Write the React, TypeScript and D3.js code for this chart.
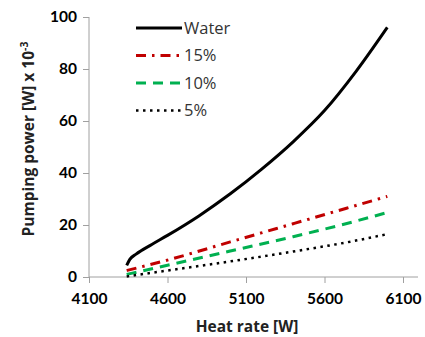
import * as d3 from "d3";
import { useEffect, useRef } from "react";

const heatWater = [4340, 4360, 4400, 4500, 4600, 4800, 5000, 5200, 5400, 5600, 5800, 6000];
const water = [4.5, 6.8, 8.8, 12.5, 16, 23.5, 32, 41.5, 52, 64, 79, 96];

const heatNano = [4340, 4600, 5000, 5400, 5800, 6000];
const nano15 = [2.5, 6.5, 13.5, 20.5, 27.5, 31];
const nano10 = [1, 4.5, 10, 15.5, 21.5, 24.8];
const nano5 = [0.2, 2.5, 6, 9.8, 14, 16.5];

const xTicks = [4100, 4600, 5100, 5600, 6100];
const yTicks = [0, 20, 40, 60, 80, 100];

const series = [
  { name: "Water", x: heatWater, y: water, color: "#000000", dash: "none", width: 3 },
  { name: "15%", x: heatNano, y: nano15, color: "#c00000", dash: "10,6,2.5,6", width: 3 },
  { name: "10%", x: heatNano, y: nano10, color: "#00b050", dash: "10,7", width: 3 },
  { name: "5%", x: heatNano, y: nano5, color: "#000000", dash: "2.5,4.5", width: 2.5 },
];

const App = () => {
  const ref = useRef<SVGSVGElement>(null);
  const width = 425,
    height = 337;

  useEffect(() => {
    const svg = d3.select(ref.current);
    svg.selectAll("*").remove();
    const font = "Lato, 'Open Sans', sans-serif";
    const titleFont = "'Open Sans', Lato, sans-serif";

    const x = d3.scaleLinear().domain([4100, 6100]).range([89, 403]);
    const y = d3.scaleLinear().domain([0, 100]).range([277, 17]);

    // y axis
    const yAxis = svg.append("g").attr("transform", "translate(89,0)").call(
      d3.axisLeft(y).tickValues(yTicks).tickSize(6).tickPadding(6)
    );
    yAxis.select(".domain").attr("stroke", "#a0a0a0").attr("d", `M0,${y(100)}V${y(0)}`);
    yAxis.selectAll(".tick line").attr("stroke", "#a0a0a0");
    yAxis
      .selectAll(".tick text")
      .attr("font-family", font)
      .attr("font-weight", "bold")
      .attr("font-size", 15.5)
      .attr("fill", "#000");

    // x axis
    const xAxis = svg.append("g").attr("transform", `translate(0,${y(0)})`).call(
      d3.axisBottom(x).tickValues(xTicks).tickFormat(d3.format("d")).tickSize(6).tickPadding(10)
    );
    xAxis.select(".domain").attr("stroke", "#a0a0a0").attr("d", `M${x(4100)},0H418`);
    xAxis.selectAll(".tick line").attr("stroke", "#a0a0a0");
    xAxis
      .selectAll(".tick text")
      .attr("font-family", font)
      .attr("font-weight", "bold")
      .attr("font-size", 15.5)
      .attr("fill", "#000");

    // axis titles
    svg
      .append("text")
      .attr("x", 247)
      .attr("y", 332)
      .attr("text-anchor", "middle")
      .attr("font-family", titleFont)
      .attr("font-weight", "bold")
      .attr("font-size", 15.5)
      .attr("fill", "#222")
      .text("Heat rate [W]");

    const yt = svg
      .append("text")
      .attr("transform", "translate(34,139) rotate(-90)")
      .attr("text-anchor", "middle")
      .attr("font-family", titleFont)
      .attr("font-weight", "bold")
      .attr("font-size", 15.5)
      .attr("fill", "#222");
    yt.append("tspan").text("Pumping power [W] x 10");
    yt.append("tspan").attr("dy", -6).attr("font-size", 10.5).text("-3");

    // lines
    const line = d3
      .line<[number, number]>()
      .x((d) => x(d[0]))
      .y((d) => y(d[1]))
      .curve(d3.curveMonotoneX);

    series.forEach((s) => {
      svg
        .append("path")
        .datum(s.x.map((v, i) => [v, s.y[i]] as [number, number]))
        .attr("d", line)
        .attr("fill", "none")
        .attr("stroke", s.color)
        .attr("stroke-width", s.width)
        .attr("stroke-dasharray", s.dash);
    });

    // legend
    const lg = svg.append("g");
    series.forEach((s, i) => {
      const ly = 28 + i * 27.5;
      lg.append("line")
        .attr("x1", 136)
        .attr("x2", 182)
        .attr("y1", ly)
        .attr("y2", ly)
        .attr("stroke", s.color)
        .attr("stroke-width", s.width)
        .attr("stroke-dasharray", s.dash);
      lg.append("text")
        .attr("x", 184)
        .attr("y", ly)
        .attr("dy", "0.36em")
        .attr("font-family", titleFont)
        .attr("font-size", 16.5)
        .attr("fill", "#333")
        .text(s.name);
    });
  }, []);

  return (
    <svg
      ref={ref}
      width={width}
      height={height}
      style={{ position: "absolute", left: 0, top: 0, background: "#fff" }}
    />
  );
};

export default App;
